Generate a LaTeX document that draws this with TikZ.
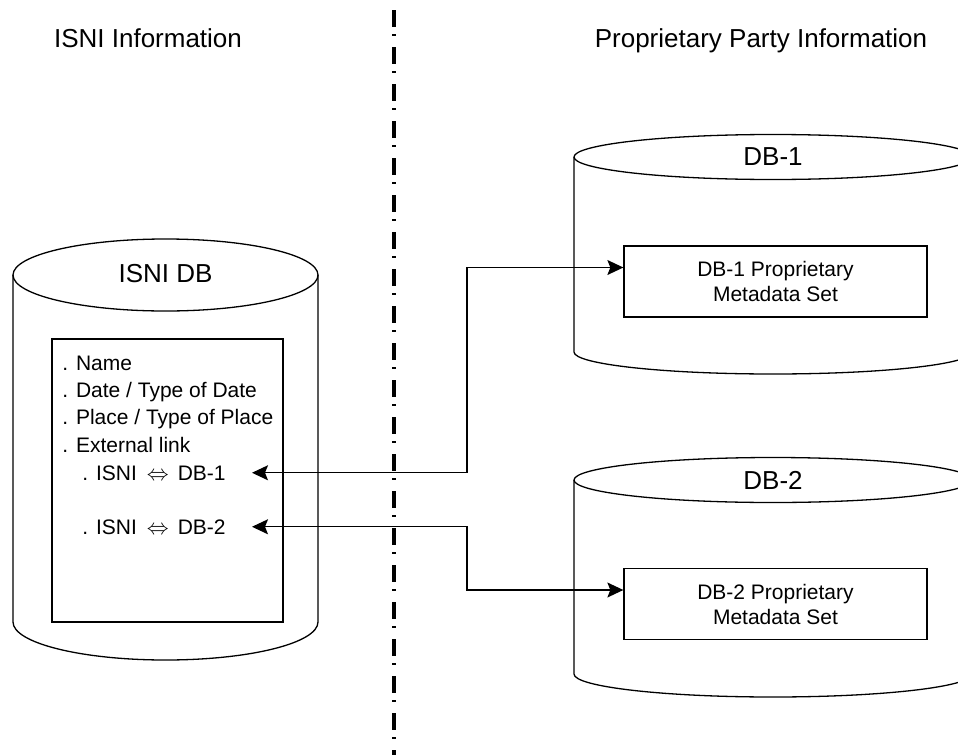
\documentclass[tikz,border=0pt]{standalone}
\usepackage{fontspec}
\setmainfont{Liberation Sans}
\usetikzlibrary{arrows.meta}
\newcommand{\bigtxt}{\fontsize{13pt}{15pt}\selectfont}
\newcommand{\smalltxt}{\fontsize{10.5pt}{12.5pt}\selectfont}
\newcommand{\dblarrow}{\hspace{5pt}$\Leftrightarrow$\hspace{4.5pt}}

\begin{document}
\begin{tikzpicture}[x=0.5pt, y=-0.5pt,
    every node/.style={inner sep=0pt},
    outline/.style={line width=0.65pt},
    title/.style={font=\bigtxt, anchor=base},
    item/.style={font=\smalltxt, anchor=base west},
    metabox/.style={draw, line width=0.65pt, minimum width=151.5pt, minimum height=35.5pt, align=center, font=\smalltxt},
    link/.style={line width=0.65pt, {Stealth[length=8pt,width=7.5pt,inset=1.5pt]}-{Stealth[length=8pt,width=7.5pt,inset=1.5pt]}},
    divider/.style={line width=1.6pt, dash pattern=on 8.5pt off 3.5pt on 1pt off 5.5pt}]

    \useasboundingbox (0,0) rectangle (958,755);

    % headings
    \node[title] (lefthead) at (148,47) {ISNI Information};
    \node[title] (righthead) at (761,47) {Proprietary Party Information};

    % divider
    \draw[divider] (394,10) -- (394,755);

    % ISNI DB
    \draw[outline] (13,275) -- (13,622) arc[start angle=180, end angle=0, x radius=152.5, y radius=38] -- (318,275);
    \draw[outline] (165.5,275) ellipse [x radius=152.5, y radius=36];
    \node[title] (isnidb) at (165.5,282) {ISNI DB};

    \node[draw, outline, minimum width=115.5pt, minimum height=141.5pt] (attrbox) at (167.5,480.5) {};
    \foreach \txt [count=\i] in {Name, Date / Type of Date, Place / Type of Place, External link} {
        \node[item] (item\i) at (62, {342.6+27.4*\i}) {. \txt};
    }
    \node[item] (isni1) at (82,480) {. ISNI\dblarrow DB-1};
    \node[item] (isni2) at (82,534) {. ISNI\dblarrow DB-2};

    % DB-1
    \draw[outline] (574,157) -- (574,352) arc[start angle=180, end angle=0, x radius=199, y radius=22] -- (972,157);
    \draw[outline] (773,157) ellipse [x radius=199, y radius=22.5];
    \node[title] (db1) at (773,165) {DB-1};
    \node[metabox] (meta1) at (775.5,281.5) {DB-1 Proprietary\\Metadata Set};

    % DB-2
    \draw[outline] (574,480) -- (574,674) arc[start angle=180, end angle=0, x radius=199, y radius=23] -- (972,480);
    \draw[outline] (773,480) ellipse [x radius=199, y radius=22.5];
    \node[title] (db2) at (773,489) {DB-2};
    \node[metabox] (meta2) at (775.5,604) {DB-2 Proprietary\\Metadata Set};

    % links
    \coordinate (bend) at (467,0);
    \coordinate (tip1) at ([xshift=13pt]isni1.east);
    \coordinate (tip2) at ([xshift=13pt]isni2.east);
    \draw[link] (tip1) -- (tip1 -| bend) |- ([yshift=7pt]meta1.west);
    \draw[link] (tip2) -- (tip2 -| bend) |- ([yshift=7pt]meta2.west);
\end{tikzpicture}
\end{document}
